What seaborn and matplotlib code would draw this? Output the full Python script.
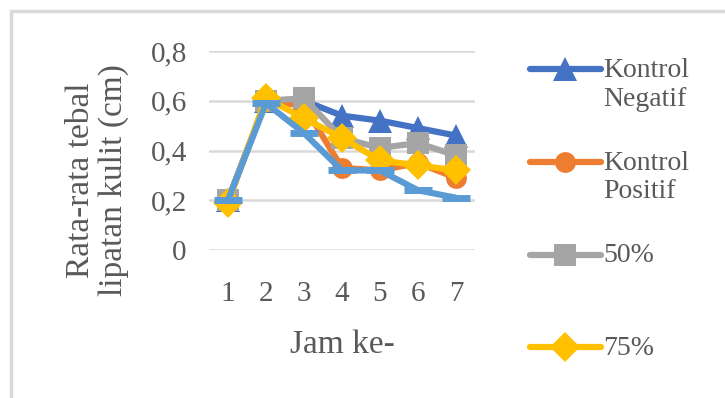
import pandas as pd
import seaborn as sns
import matplotlib.pyplot as plt
from matplotlib.patches import Rectangle

# data
jam = [1, 2, 3, 4, 5, 6, 7]
kontrol_negatif = [0.20, 0.60, 0.60, 0.54, 0.52, 0.49, 0.46]
kontrol_positif = [0.20, 0.60, 0.58, 0.33, 0.32, 0.35, 0.29]
dosis_50 = [0.20, 0.60, 0.61, 0.45, 0.41, 0.43, 0.38]
dosis_75 = [0.19, 0.61, 0.53, 0.45, 0.36, 0.34, 0.32]
dosis_100 = [0.20, 0.59, 0.47, 0.32, 0.32, 0.24, 0.21]

nama_seri = ["Kontrol\nNegatif", "Kontrol\nPositif", "50%", "75%", "100%"]
yticks = [0, 0.2, 0.4, 0.6, 0.8]
ytick_labels = ["0", "0,2", "0,4", "0,6", "0,8"]

warna = ["#4472C4", "#ED7D31", "#A5A5A5", "#FFC000", "#5B9BD5"]
marker = ["^", "o", "s", "D", "_"]
msize = [17, 15, 16, 15, 20]

sns.set_style("white")
plt.rcParams["font.family"] = ["Liberation Serif", "DejaVu Serif"]

fig = plt.figure(figsize=(7.25, 3.98), dpi=100)
ax = fig.add_axes([209 / 725, 1 - 250 / 398, 266 / 725, 199 / 398])

semua = [kontrol_negatif, kontrol_positif, dosis_50, dosis_75, dosis_100]
for nilai, nama, c, m, s in zip(semua, nama_seri, warna, marker, msize):
    tabela = pd.DataFrame({"jam": jam, "nilai": nilai})
    sns.lineplot(data=tabela, x="jam", y="nilai", ax=ax, color=c, lw=4.5,
                 marker=m, markersize=s, markeredgecolor=c,
                 markeredgewidth=5 if m == "_" else 0, label=nama,
                 legend=False)

ax.set_xlim(0.5, 7.5)
ax.set_ylim(0, 0.8)
ax.set_xticks(jam)
ax.set_xticklabels([str(j) for j in jam], fontsize=21, color="#595959")
ax.set_yticks(yticks)
ax.set_yticklabels(ytick_labels, fontsize=21, color="#595959")
ax.tick_params(length=0)
ax.tick_params(axis="y", pad=16)
ax.tick_params(axis="x", pad=22)
ax.yaxis.grid(True, color="#d9d9d9", lw=1.8)
ax.xaxis.grid(False)
ax.set_axisbelow(True)
sns.despine(ax=ax, left=True, bottom=True)

ax.set_xlabel("Jam ke-", fontsize=24, color="#595959")
ax.xaxis.set_label_coords(0.5, -0.40)
ax.set_ylabel("Rata-rata tebal\nlipatan kulit (cm)", fontsize=24,
              color="#595959", multialignment="center", linespacing=1.1)
ax.yaxis.set_label_coords(-0.30, 0.35)

# legenda: di gambar asli hanya 4 entri yang terlihat (yang ke-5 terpotong)
handles = ax.get_lines()[:4]
labels = [n if "\n" in n else n + "\n " for n in nama_seri[:3]] + [nama_seri[3]]
leg = fig.legend(handles, labels, loc="upper left",
                 bbox_to_anchor=(516 / 725, 1 - 44 / 398), frameon=False,
                 fontsize=20, handlelength=2.55, handletextpad=0.1,
                 handleheight=1.1, labelspacing=1.4, borderpad=0,
                 labelcolor="#595959")
for kolom in leg._legend_handle_box.get_children():
    for baris in kolom.get_children():
        baris.align = "top"

# bingkai abu-abu
fig.patches.append(Rectangle((11 / 725, -0.5), 2, 1 - 11 / 398 + 0.5,
                             transform=fig.transFigure, fill=False,
                             ec="#d9d9d9", lw=2.5))

fig.savefig("out.png", dpi=100)
